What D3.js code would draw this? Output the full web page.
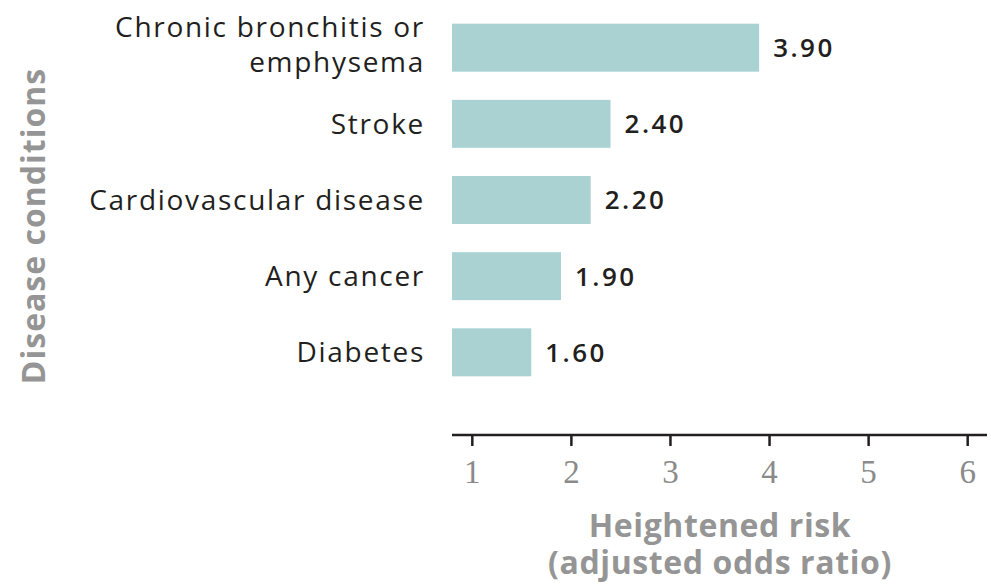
<!DOCTYPE html>
<html>
<head>
<meta charset="utf-8">
<script src="https://cdn.jsdelivr.net/npm/d3@7/dist/d3.min.js"></script>
<style>
  body { margin:0; background:#fff; }
  .cat { font-family: "Open Sans", sans-serif; font-size:28px; letter-spacing:1.7px; fill:#231f20; }
  .val { font-family: "Open Sans", sans-serif; font-size:26px; letter-spacing:2.5px; font-weight:600; fill:#231f20; }
  .ttl { font-family: "Open Sans", sans-serif; font-weight:bold; fill:#959595; }
  .tick text { font-family: "Liberation Serif", serif; font-size:33px; fill:#8a8a8a; }
</style>
</head>
<body>
<script>
var categories = [["Chronic bronchitis or", "emphysema"], ["Stroke"], ["Cardiovascular disease"], ["Any cancer"], ["Diabetes"]];
var values = [3.90, 2.40, 2.20, 1.90, 1.60];
var tickValues = [1, 2, 3, 4, 5, 6];

var w = 991, h = 584;
var svg = d3.select('body').append('svg').attr('width', w).attr('height', h);

var x = d3.scaleLinear().domain([0.8, 6.2]).range([452, 987]);
var y = d3.scaleBand().domain(d3.range(values.length)).range([10, 390]).paddingInner(0.37).paddingOuter(0.18);

// bars
svg.selectAll('rect.bar').data(values).enter().append('rect')
    .attr('class', 'bar')
    .attr('x', x(0.8))
    .attr('y', function(d, i){ return y(i); })
    .attr('width', function(d){ return x(d) - x(0.8); })
    .attr('height', y.bandwidth())
    .attr('fill', '#aad2d3');

// value labels
svg.selectAll('text.val').data(values).enter().append('text')
    .attr('class', 'val')
    .attr('x', function(d){ return x(d) + 14; })
    .attr('y', function(d, i){ return y(i) + y.bandwidth() / 2; })
    .attr('dy', '0.36em')
    .text(function(d){ return d.toFixed(2); });

// category labels
var cat = svg.selectAll('text.cat').data(categories).enter().append('text')
    .attr('class', 'cat')
    .attr('text-anchor', 'end')
    .attr('y', function(d, i){ return y(i) + y.bandwidth() / 2; });
cat.selectAll('tspan').data(function(d){ return d; }).enter().append('tspan')
    .attr('x', 425)
    .attr('dy', function(d, j, arr){
        var n = arr.length;
        return j == 0 ? (0.36 - (n - 1) * 0.75) + 'em' : '1.25em';
    })
    .text(function(d){ return d; });

// x axis
var axis = svg.append('g').attr('transform', 'translate(0,435)')
    .call(d3.axisBottom(x).tickValues(tickValues).tickSize(11).tickPadding(14).tickFormat(d3.format('d')));
axis.select('.domain').attr('stroke', '#231f20').attr('stroke-width', 2.5).attr('d', 'M' + x(0.8) + ',0H' + x(6.2));
axis.selectAll('.tick line').attr('stroke', '#231f20').attr('stroke-width', 2.5);

// axis titles
svg.append('text').attr('class', 'ttl').attr('text-anchor', 'middle')
    .attr('transform', 'translate(45,226) rotate(-90)')
    .style('font-size', '32px').style('letter-spacing', '1px')
    .text('Disease conditions');

var xt = svg.append('text').attr('class', 'ttl').attr('text-anchor', 'middle')
    .style('font-size', '32px').style('letter-spacing', '0.6px');
xt.append('tspan').attr('x', 720).attr('y', 537).text('Heightened risk');
xt.append('tspan').attr('x', 720).attr('y', 574).text('(adjusted odds ratio)');
</script>
</body>
</html>
